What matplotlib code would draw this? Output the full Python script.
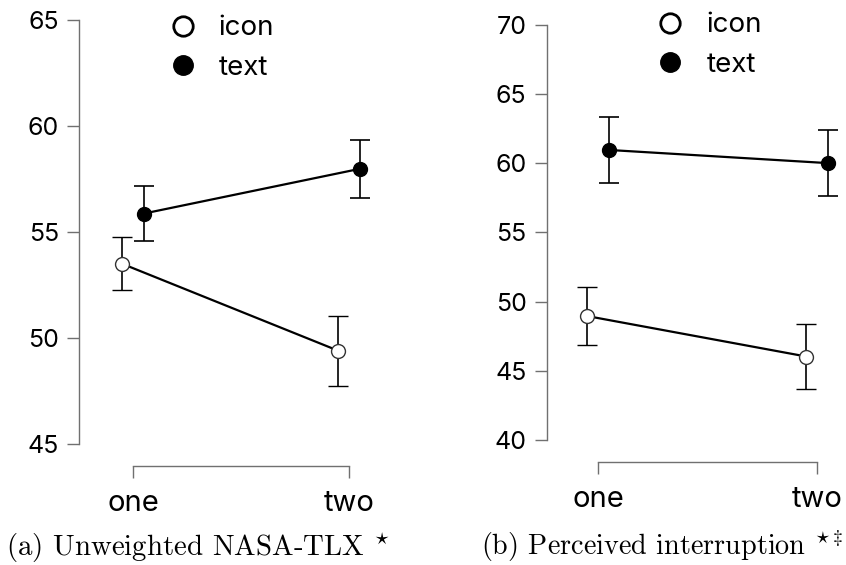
import matplotlib
matplotlib.use('Agg')
import matplotlib.pyplot as plt
from matplotlib.lines import Line2D

plt.rcParams['font.family'] = ['Inter', 'DejaVu Sans']
plt.rcParams['mathtext.fontset'] = 'cm'

conditions = ['one', 'two']
groups = ['icon', 'text']

# (a) Unweighted NASA-TLX
tlx_icon = [53.5, 49.4]
tlx_icon_err = [1.25, 1.65]
tlx_text = [55.87, 57.98]
tlx_text_err = [1.3, 1.37]

# (b) Perceived interruption
pi_icon = [48.95, 46.03]
pi_icon_err = [2.1, 2.33]
pi_text = [60.95, 60.0]
pi_text_err = [2.35, 2.37]

W, H = 846, 565
fig = plt.figure(figsize=(W / 100, H / 100), dpi=100)

def px_axes(x0, x1, y_top, y_bot):
    return fig.add_axes([x0 / W, (H - y_bot) / H, (x1 - x0) / W, (y_bot - y_top) / H])

ax1 = px_axes(79, 403, 20, 444)
ax2 = px_axes(546.7, 872, 24.7, 440)

dodge = 0.05
panels = [
    (ax1, tlx_icon, tlx_icon_err, tlx_text, tlx_text_err, (45, 65), (-0.25, 1.25), (0.44, 1.07)),
    (ax2, pi_icon, pi_icon_err, pi_text, pi_text_err, (40, 70), (-0.236, 1.25), (0.50, 1.09)),
]

for ax, icon, icon_err, text, text_err, ylim, xlim, leg_anchor in panels:
    xs = list(range(len(conditions)))
    ax.errorbar([x - dodge for x in xs], icon, yerr=icon_err, color='black',
                lw=1.6, elinewidth=1.2, capsize=7.5, capthick=1.2,
                marker='o', ms=10, mfc='white', mec='#333333', mew=1.0, zorder=3)
    ax.errorbar([x + dodge for x in xs], text, yerr=text_err, color='black',
                lw=1.6, elinewidth=1.2, capsize=7.5, capthick=1.2,
                marker='o', ms=10, mfc='black', mec='black', zorder=3)
    ax.set_xlim(*xlim)
    ax.set_ylim(*ylim)
    ax.set_yticks(range(ylim[0], ylim[1] + 1, 5))
    ax.set_xticks(xs)
    ax.set_xticklabels(conditions)
    for s in ['top', 'right']:
        ax.spines[s].set_visible(False)
    ax.spines['bottom'].set_position(('outward', 15.5))
    ax.spines['bottom'].set_bounds(0, 1)
    ax.spines['left'].set_bounds(*ylim)
    for s in ['left', 'bottom']:
        ax.spines[s].set_color('#707070')
        ax.spines[s].set_linewidth(1.0)
    ax.tick_params(axis='both', colors='#707070', labelcolor='black',
                   length=8.5, width=1.0, labelsize=18, pad=6)
    ax.tick_params(axis='x', labelsize=21, pad=9)
    ax.patch.set_visible(False)

    handles = [
        Line2D([], [], ls='none', marker='o', ms=14, mfc='white', mec='black', mew=2),
        Line2D([], [], ls='none', marker='o', ms=14, mfc='black', mec='black'),
    ]
    ax.legend(handles, groups, loc='upper center', bbox_to_anchor=leg_anchor,
              frameon=False, fontsize=20, handlelength=1.0, handletextpad=0.8,
              labelspacing=0.5)

fig.text(197.5 / W, 1 - 548 / H, r'(a) Unweighted NASA-TLX $^{\star}$',
         family='cmr10', fontsize=20.8, ha='center', va='center')
fig.text(662 / W, 1 - 546 / H, r'(b) Perceived interruption $^{\star\ddagger}$',
         family='cmr10', fontsize=20.3, ha='center', va='center')

fig.savefig('out.png', dpi=100)
